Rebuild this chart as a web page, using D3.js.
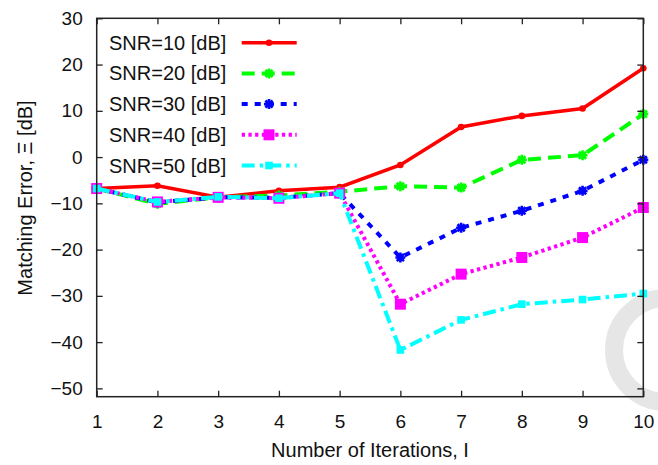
<!DOCTYPE html>
<html><head><meta charset="utf-8">
<script src="https://cdn.jsdelivr.net/npm/d3@7"></script>
<style>
html,body{margin:0;padding:0;background:#fff;}
svg{display:block;font-family:"Liberation Sans",Arial,Helvetica,sans-serif;}
</style></head>
<body><svg id="chart" width="658" height="465"></svg>
<script>
const iterations = [1,2,3,4,5,6,7,8,9,10];
const seriesNames = ["SNR=10 [dB]","SNR=20 [dB]","SNR=30 [dB]","SNR=40 [dB]","SNR=50 [dB]"];
const snr10 = [-6.8,-6.2,-8.7,-7.3,-6.5,-1.7,6.5,8.9,10.5,19.2];
const snr20 = [-6.8,-10.1,-8.7,-8.3,-7.5,-6.3,-6.6,-0.6,0.4,9.3];
const snr30 = [-6.8,-9.8,-8.7,-8.8,-7.8,-21.7,-15.3,-11.6,-7.3,-0.6];
const snr40 = [-6.8,-9.7,-8.7,-8.9,-7.8,-31.8,-25.3,-21.7,-17.4,-10.9];
const snr50 = [-6.8,-9.7,-8.6,-8.9,-7.8,-41.7,-35.2,-31.8,-30.8,-29.5];
const yTicks = [30,20,10,0,-10,-20,-30,-40,-50];
const xTicks = [1,2,3,4,5,6,7,8,9,10];
const xLabel = "Number of Iterations, I";
const yLabel = "Matching Error, \u039E [dB]";

const svg = d3.select("#chart");
const L=96.7, R=643.3, T=18.3, B=396.7;
const x = d3.scaleLinear().domain([1,10]).range([L,R]);
const y = d3.scaleLinear().domain([-51.8,30]).range([B,T]);

// watermark ring
svg.append("circle").attr("cx",666).attr("cy",350).attr("r",52)
  .attr("fill","none").attr("stroke","#e6e6e6").attr("stroke-width",18);

const styles = [
  {color:"#ff0000", dash:null, width:3.5, marker:"circle"},
  {color:"#00ff00", dash:"13,7", width:4, marker:"star"},
  {color:"#0000ff", dash:"6,7", width:4, marker:"ast"},
  {color:"#ff00ff", dash:"3.3,3.4", width:4, marker:"bigsq"},
  {color:"#00ffff", dash:"13,5,3.5,5", width:4, marker:"sq"}
];
const data = [snr10,snr20,snr30,snr40,snr50];

function drawMarker(g, mk, color, cx, cy){
  if(mk==="circle"){
    g.append("circle").attr("cx",cx).attr("cy",cy).attr("r",3.3).attr("fill",color);
  } else if(mk==="star"||mk==="ast"){
    const s=5;
    const p = `M${cx-s},${cy}L${cx+s},${cy}M${cx},${cy-s}L${cx},${cy+s}M${cx-s*0.72},${cy-s*0.72}L${cx+s*0.72},${cy+s*0.72}M${cx-s*0.72},${cy+s*0.72}L${cx+s*0.72},${cy-s*0.72}`;
    g.append("path").attr("d",p).attr("stroke",color).attr("stroke-width",2.6).attr("fill","none");
    g.append("circle").attr("cx",cx).attr("cy",cy).attr("r",2.5).attr("fill",color);
  } else if(mk==="bigsq"){
    g.append("rect").attr("x",cx-5.5).attr("y",cy-5.5).attr("width",11).attr("height",11).attr("fill",color);
  } else if(mk==="sq"){
    g.append("rect").attr("x",cx-3.8).attr("y",cy-3.8).attr("width",7.6).attr("height",7.6).attr("fill",color);
  }
}

const line = d3.line().x((d,i)=>x(iterations[i])).y(d=>y(d));
const plot = svg.append("g");
data.forEach((vals,k)=>{
  const st = styles[k];
  const g = plot.append("g");
  g.append("path").datum(vals).attr("d",line).attr("fill","none")
    .attr("stroke",st.color).attr("stroke-width",st.width)
    .attr("stroke-dasharray",st.dash).attr("stroke-linejoin","miter");
  vals.forEach((v,i)=>drawMarker(g, st.marker, st.color, x(iterations[i]), y(v)));
});

// axes
const fmt = d=> d<0 ? "\u2212"+Math.abs(d) : String(d);
const axL = svg.append("g").attr("transform",`translate(${L},0)`)
  .call(d3.axisLeft(y).tickValues(yTicks).tickFormat(fmt).tickSizeInner(-6).tickSizeOuter(0).tickPadding(14));
const axR = svg.append("g").attr("transform",`translate(${R},0)`)
  .call(d3.axisRight(y).tickValues(yTicks).tickFormat("").tickSizeInner(-6).tickSizeOuter(0));
const axB = svg.append("g").attr("transform",`translate(0,${B})`)
  .call(d3.axisBottom(x).tickValues(xTicks).tickFormat(d3.format("d")).tickSizeInner(-6).tickSizeOuter(0).tickPadding(18));
const axT = svg.append("g").attr("transform",`translate(0,${T})`)
  .call(d3.axisTop(x).tickValues(xTicks).tickFormat("").tickSizeInner(-6).tickSizeOuter(0));
[axL,axR,axB,axT].forEach(a=>{
  a.selectAll(".domain").remove();
  a.selectAll(".tick line").attr("stroke","#222").attr("stroke-width",1.3);
  a.selectAll("text").attr("font-size",19).attr("fill","#111")
    .attr("font-family","'Liberation Sans',Arial,sans-serif");
});
svg.append("rect").attr("x",L).attr("y",T).attr("width",R-L).attr("height",B-T)
  .attr("fill","none").attr("stroke","#222").attr("stroke-width",1.5);

// axis labels
svg.append("text").attr("x",(L+R)/2).attr("y",457).attr("text-anchor","middle")
  .attr("font-size",20).attr("fill","#111").text(xLabel);
svg.append("text").attr("transform",`translate(32,198) rotate(-90)`).attr("text-anchor","middle")
  .attr("font-size",20).attr("fill","#111").text(yLabel);

// legend
const legend = svg.append("g");
seriesNames.forEach((name,k)=>{
  const cy = 42.7 + k*30.7;
  legend.append("rect").attr("x",104).attr("y",cy-15).attr("width",200).attr("height",30).attr("fill","#fff");
});
seriesNames.forEach((name,k)=>{
  const st = styles[k];
  const cy = 42.7 + k*30.7;
  legend.append("text").attr("x",109).attr("y",cy+7).attr("font-size",20).attr("fill","#111").text(name);
  legend.append("line").attr("x1",241.7).attr("x2",296.7).attr("y1",cy).attr("y2",cy)
    .attr("stroke",st.color).attr("stroke-width",st.width).attr("stroke-dasharray",st.dash);
  drawMarker(legend, st.marker, st.color, 269, cy);
});
</script></body></html>
